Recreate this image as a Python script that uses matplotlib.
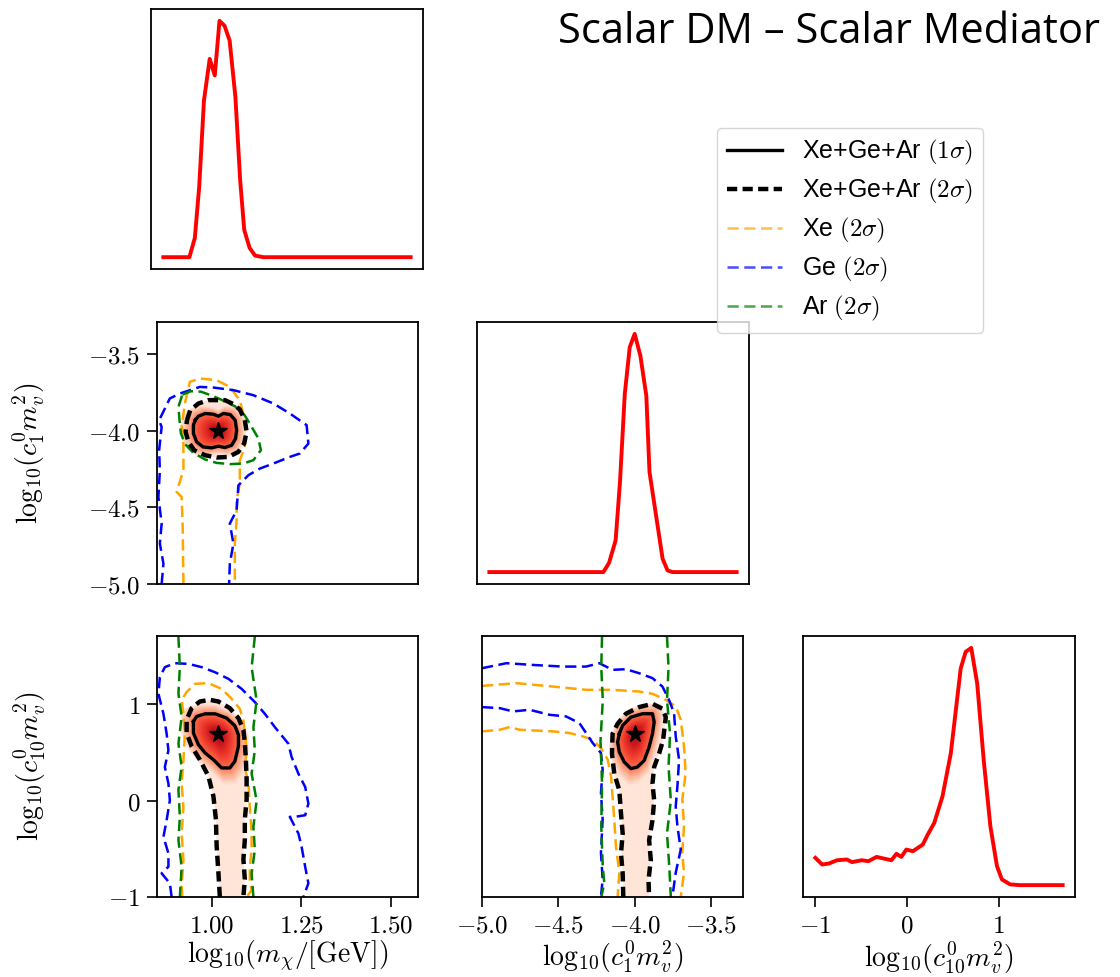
import numpy as np
import matplotlib
matplotlib.use('Agg')
import matplotlib.pyplot as plt
from matplotlib.lines import Line2D

plt.rcParams['mathtext.fontset'] = 'cm'
plt.rcParams['font.family'] = ['Liberation Sans', 'DejaVu Sans']

# ---------------- data ----------------
best_mchi, best_c1, best_c10 = 1.017, -4.0, 0.69

# 1D marginals (normalised to peak = 1)
mchi_x = [0.846, 0.923, 0.939, 0.952, 0.966, 0.983, 0.998, 1.012, 1.027, 1.042,
          1.059, 1.073, 1.085, 1.101, 1.117, 1.141, 1.30, 1.45, 1.577]
mchi_p = [0.0, 0.0, 0.081, 0.299, 0.663, 0.839, 0.769, 1.0, 0.979, 0.916,
          0.677, 0.327, 0.116, 0.039, 0.007, 0.0, 0.0, 0.0, 0.0]

c1_x = [-5.0, -4.6, -4.216, -4.177, -4.132, -4.102, -4.069, -4.035, -4.001, -3.962,
        -3.921, -3.899, -3.854, -3.809, -3.775, -3.741, -3.5, -3.3]
c1_p = [0.0, 0.0, 0.0, 0.039, 0.133, 0.378, 0.748, 0.944, 1.0, 0.909,
        0.741, 0.420, 0.238, 0.056, 0.007, 0.0, 0.0, 0.0]

c10_x = [-1.0, -0.926, -0.853, -0.763, -0.655, -0.601, -0.493, -0.421, -0.331, -0.241,
         -0.169, -0.115, -0.061, -0.007, 0.065, 0.173, 0.227, 0.298, 0.388, 0.479,
         0.587, 0.641, 0.702, 0.767, 0.838, 0.911, 0.983, 1.037, 1.127, 1.235, 1.45, 1.70]
c10_p = [0.115, 0.087, 0.091, 0.105, 0.108, 0.097, 0.105, 0.101, 0.119, 0.111,
         0.105, 0.132, 0.119, 0.150, 0.143, 0.171, 0.213, 0.262, 0.374, 0.556,
         0.913, 0.983, 1.0, 0.850, 0.528, 0.248, 0.080, 0.024, 0.003, 0.0, 0.0, 0.0]

# 2D contours: (m_chi, c1)
mc1_all1 = [(0.953, -3.933), (0.962, -3.907), (0.981, -3.889), (1.004, -3.894), (1.018, -3.907),
            (1.032, -3.889), (1.051, -3.896), (1.065, -3.933), (1.069, -3.998), (1.066, -4.052),
            (1.055, -4.096), (1.036, -4.111), (1.018, -4.102), (0.999, -4.113), (0.975, -4.107),
            (0.957, -4.074), (0.948, -4.019), (0.948, -3.965), (0.953, -3.933)]
mc1_all2 = [(0.930, -3.933), (0.939, -3.868), (0.962, -3.824), (0.990, -3.802), (1.013, -3.802),
            (1.036, -3.802), (1.060, -3.828), (1.078, -3.863), (1.092, -3.933), (1.097, -4.008),
            (1.090, -4.085), (1.074, -4.139), (1.046, -4.172), (1.013, -4.176), (0.981, -4.161),
            (0.950, -4.128), (0.934, -4.074), (0.926, -4.008), (0.930, -3.933)]
mc1_ar = [(0.917, -3.766), (0.941, -3.744), (0.969, -3.747), (0.999, -3.772), (1.027, -3.800),
          (1.065, -3.843), (1.092, -3.902), (1.111, -3.976), (1.130, -4.052), (1.137, -4.128),
          (1.116, -4.193), (1.088, -4.215), (1.051, -4.219), (1.013, -4.211), (0.981, -4.189),
          (0.948, -4.146), (0.925, -4.089), (0.913, -4.019), (0.909, -3.933), (0.906, -3.846),
          (0.917, -3.766)]
mc1_xe = [(0.920, -5.0), (0.918, -4.628), (0.915, -4.433), (0.901, -4.400), (0.920, -4.259),
          (0.920, -4.085), (0.915, -3.977), (0.924, -3.824), (0.938, -3.683), (0.966, -3.661),
          (1.013, -3.672), (1.050, -3.716), (1.078, -3.803), (1.097, -3.977), (1.092, -4.107),
          (1.078, -4.194), (1.078, -4.346), (1.069, -4.454), (1.069, -4.585), (1.064, -4.737),
          (1.064, -5.0)]
mc1_ge = [(0.859, -5.0), (0.864, -4.867), (0.854, -4.737), (0.859, -4.606), (0.850, -4.433),
          (0.854, -4.259), (0.852, -4.128), (0.859, -3.977), (0.852, -3.933), (0.882, -3.791),
          (0.910, -3.759), (0.966, -3.716), (1.004, -3.720), (1.060, -3.737), (1.116, -3.770),
          (1.172, -3.824), (1.218, -3.889), (1.265, -3.965), (1.270, -4.085), (1.246, -4.150),
          (1.218, -4.172), (1.172, -4.215), (1.134, -4.248), (1.102, -4.291), (1.074, -4.357),
          (1.069, -4.520), (1.050, -4.606), (1.060, -4.737), (1.050, -4.867), (1.048, -5.0)]

# 2D contours: (m_chi, c10)
mc10_all1 = [(0.948, 0.820), (0.957, 0.872), (0.981, 0.899), (1.009, 0.899), (1.041, 0.855),
             (1.064, 0.776), (1.074, 0.682), (1.074, 0.562), (1.064, 0.407), (1.050, 0.338),
             (1.027, 0.338), (1.004, 0.424), (0.981, 0.493), (0.962, 0.579), (0.948, 0.700),
             (0.948, 0.820)]
mc10_all2 = [(1.022, -1.0), (1.018, -0.748), (1.013, -0.472), (1.011, -0.196), (1.004, 0.045),
             (0.990, 0.252), (0.966, 0.424), (0.943, 0.562), (0.929, 0.700), (0.929, 0.838),
             (0.943, 0.958), (0.966, 1.027), (0.994, 1.044), (1.018, 1.027), (1.050, 0.958),
             (1.074, 0.855), (1.088, 0.734), (1.092, 0.597), (1.095, 0.424), (1.097, 0.217),
             (1.097, 0.010), (1.092, -0.196), (1.092, -0.403), (1.088, -0.610), (1.092, -0.817),
             (1.088, -1.0)]
mc10_xe = [(0.917, -1.0), (0.915, -0.893), (0.920, -0.617), (0.915, -0.341), (0.920, -0.066),
           (0.915, 0.176), (0.920, 0.417), (0.924, 0.693), (0.920, 0.900), (0.915, 1.044),
           (0.929, 1.124), (0.952, 1.210), (0.990, 1.217), (1.027, 1.158), (1.055, 1.055),
           (1.078, 0.951), (1.088, 0.830), (1.092, 0.693), (1.097, 0.520), (1.092, 0.348),
           (1.102, 0.176), (1.106, -0.066), (1.111, -0.341), (1.111, -0.514), (1.106, -0.686),
           (1.106, -0.824), (1.111, -0.928), (1.097, -1.0)]
mc10_ge = [(0.887, -1.0), (0.882, -0.858), (0.859, -0.755), (0.878, -0.686), (0.878, -0.548),
           (0.864, -0.376), (0.873, -0.204), (0.882, 0.003), (0.878, 0.176), (0.868, 0.348),
           (0.878, 0.520), (0.873, 0.693), (0.864, 0.900), (0.850, 1.107), (0.854, 1.279),
           (0.868, 1.383), (0.896, 1.424), (0.934, 1.417), (0.971, 1.383), (1.008, 1.331),
           (1.046, 1.262), (1.083, 1.158), (1.120, 1.021), (1.148, 0.900), (1.176, 0.762),
           (1.214, 0.589), (1.223, 0.452), (1.242, 0.279), (1.261, 0.141), (1.270, -0.031),
           (1.261, -0.152), (1.232, -0.169), (1.218, -0.169), (1.242, -0.341), (1.251, -0.479),
           (1.261, -0.686), (1.270, -0.858), (1.256, -1.0)]
mc10_ar_left = [(0.906, 1.70), (0.910, 1.38), (0.906, 1.11), (0.915, 0.87), (0.906, 0.59),
                (0.915, 0.35), (0.906, 0.11), (0.910, -0.17), (0.906, -0.41), (0.915, -0.69),
                (0.910, -1.0)]
mc10_ar_right = [(1.120, 1.70), (1.111, 1.38), (1.125, 1.04), (1.116, 0.76), (1.120, 0.52),
                 (1.111, 0.28), (1.125, 0.00), (1.116, -0.27), (1.120, -0.51), (1.111, -0.76),
                 (1.116, -1.0)]

# 2D contours: (c1, c10)
c1c10_all1 = [(-4.102, 0.693), (-4.080, 0.779), (-4.026, 0.865), (-3.950, 0.900), (-3.885, 0.900),
              (-3.874, 0.814), (-3.885, 0.693), (-3.907, 0.555), (-3.939, 0.417), (-3.983, 0.348),
              (-4.026, 0.331), (-4.070, 0.400), (-4.102, 0.503), (-4.113, 0.607), (-4.102, 0.693)]
c1c10_all2 = [(-4.076, -1.0), (-4.080, -0.755), (-4.091, -0.548), (-4.080, -0.341), (-4.091, -0.135),
              (-4.102, 0.107), (-4.135, 0.279), (-4.150, 0.486), (-4.146, 0.693), (-4.113, 0.796),
              (-4.059, 0.900), (-3.972, 0.969), (-3.885, 1.003), (-3.820, 0.952), (-3.798, 0.865),
              (-3.816, 0.624), (-3.842, 0.486), (-3.874, 0.348), (-3.885, 0.176), (-3.874, 0.003),
              (-3.885, -0.204), (-3.907, -0.410), (-3.896, -0.617), (-3.911, -0.824), (-3.907, -1.0)]
c1c10_xe_up = [(-5.0, 1.189), (-4.775, 1.217), (-4.537, 1.182), (-4.319, 1.148), (-4.146, 1.148),
               (-3.972, 1.130), (-3.885, 1.107), (-3.798, 1.044), (-3.733, 0.975), (-3.700, 0.838),
               (-3.679, 0.562), (-3.668, 0.286), (-3.690, 0.010), (-3.679, -0.266), (-3.690, -0.541),
               (-3.679, -0.748), (-3.700, -1.0)]
c1c10_xe_lo = [(-5.0, 0.717), (-4.884, 0.734), (-4.819, 0.762), (-4.754, 0.734), (-4.537, 0.717),
               (-4.428, 0.700), (-4.341, 0.665), (-4.276, 0.631), (-4.222, 0.545), (-4.178, 0.424),
               (-4.156, 0.252), (-4.146, 0.045), (-4.135, -0.196), (-4.124, -0.472), (-4.102, -0.748),
               (-4.113, -1.0)]
c1c10_ge_up = [(-5.0, 1.372), (-4.840, 1.424), (-4.667, 1.406), (-4.472, 1.389), (-4.319, 1.389),
               (-4.233, 1.424), (-4.146, 1.355), (-4.059, 1.362), (-3.972, 1.320), (-3.885, 1.269),
               (-3.820, 1.182), (-3.777, 1.044), (-3.744, 0.907), (-3.733, 0.665), (-3.711, 0.424),
               (-3.722, 0.148), (-3.733, -0.059), (-3.722, -0.266), (-3.700, -0.507), (-3.733, -0.748),
               (-3.755, -1.0)]
c1c10_ge_lo = [(-5.0, 0.969), (-4.884, 0.958), (-4.797, 0.924), (-4.689, 0.941), (-4.558, 0.889),
               (-4.450, 0.872), (-4.363, 0.803), (-4.319, 0.700), (-4.276, 0.597), (-4.222, 0.493),
               (-4.211, 0.321), (-4.222, 0.080), (-4.211, -0.196), (-4.222, -0.541), (-4.211, -0.817),
               (-4.222, -1.0)]
c1c10_ar_left = [(-4.215, 1.70), (-4.220, 1.38), (-4.210, 1.04), (-4.225, 0.62), (-4.215, 0.18),
                 (-4.220, -0.27), (-4.210, -0.69), (-4.200, -0.86), (-4.220, -1.0)]
c1c10_ar_right = [(-3.790, 1.70), (-3.780, 1.38), (-3.790, 1.04), (-3.770, 0.69), (-3.780, 0.35),
                  (-3.765, 0.00), (-3.790, -0.34), (-3.775, -0.69), (-3.765, -1.0)]

mchi_lim = (0.846, 1.577)
c1_lim = (-5.0, -3.293)
c10_lim = (-1.0, 1.706)
mchi_ticks = [1.00, 1.25, 1.50]
c1_ticks = [-5.0, -4.5, -4.0, -3.5]
c10_ticks = [-1, 0, 1]

lab_mchi = r'$\mathrm{log}_{10}(m_\chi/[\mathrm{GeV}])$'
lab_c1 = r'$\mathrm{log}_{10}(c_1^0 m_v^2)$'
lab_c10 = r'$\mathrm{log}_{10}(c_{10}^0 m_v^2)$'

# ---------------- figure ----------------
W, H = 1120, 977
fig = plt.figure(figsize=(W / 100, H / 100), dpi=100)


def box(l, t, r, b):
    return [l / W, 1 - b / H, (r - l) / W, (b - t) / H]


ax_d0 = fig.add_axes(box(151, 9, 423, 269))
ax_d1 = fig.add_axes(box(477, 322, 749, 584))
ax_d2 = fig.add_axes(box(803, 636, 1075, 897))
ax_a = fig.add_axes(box(157, 322, 418, 584))
ax_b = fig.add_axes(box(157, 636, 418, 897))
ax_c = fig.add_axes(box(482, 636, 743, 897))

TS = 18   # tick labels
LS = 20   # axis labels
dash_c = (4.5, 2.2)
dash_k = (2.3, 1.2)
reds = plt.cm.Reds


def xy(pts):
    a = np.array(pts)
    return a[:, 0], a[:, 1]


def shade(ax, sig2, sig1, star):
    # pale 2-sigma region plus nested copies of the 1-sigma contour shrunk toward the best fit
    x2, y2 = xy(sig2)
    ax.fill(x2, y2, color=reds(0.10), lw=0, zorder=1)
    x1, y1 = xy(sig1)
    sx, sy = star
    for f in np.linspace(1.5, 0.1, 29):
        if f > 1:
            c = reds(0.12 + (1.5 - f) / 0.5 * 0.35)
        else:
            c = reds(0.50 + (1 - f) * 0.38)
        ax.fill(sx + f * (x1 - sx), sy + f * (y1 - sy), color=c, lw=0, zorder=1)


def cline(ax, pts, color):
    x, y = xy(pts)
    ax.plot(x, y, color=color, lw=1.8, dashes=dash_c, zorder=2)


def kline(ax, pts, solid):
    x, y = xy(pts)
    if solid:
        ax.plot(x, y, color='k', lw=2.4, zorder=3)
    else:
        ax.plot(x, y, color='k', lw=3.2, dashes=dash_k, zorder=3)


def fmt(v, nd):
    return '$' + f'{v:.{nd}f}' + '$'


# --- panel A: m_chi vs c1
shade(ax_a, mc1_all2, mc1_all1, (best_mchi, best_c1))
cline(ax_a, mc1_xe, 'orange')
cline(ax_a, mc1_ge, 'blue')
cline(ax_a, mc1_ar, 'green')
kline(ax_a, mc1_all2, False)
kline(ax_a, mc1_all1, True)
ax_a.plot(best_mchi, best_c1, marker='*', color='k', ms=13, zorder=5)
ax_a.set_xlim(mchi_lim)
ax_a.set_ylim(c1_lim)
ax_a.set_xticks([])
ax_a.set_yticks(c1_ticks)
ax_a.set_yticklabels([fmt(v, 1) for v in c1_ticks])
ax_a.set_ylabel(lab_c1, fontsize=LS)

# --- panel B: m_chi vs c10
shade(ax_b, mc10_all2, mc10_all1, (best_mchi, best_c10))
cline(ax_b, mc10_xe, 'orange')
cline(ax_b, mc10_ge, 'blue')
cline(ax_b, mc10_ar_left, 'green')
cline(ax_b, mc10_ar_right, 'green')
kline(ax_b, mc10_all2, False)
kline(ax_b, mc10_all1, True)
ax_b.plot(best_mchi, best_c10, marker='*', color='k', ms=13, zorder=5)
ax_b.set_xlim(mchi_lim)
ax_b.set_ylim(c10_lim)
ax_b.set_xticks(mchi_ticks)
ax_b.set_xticklabels([fmt(v, 2) for v in mchi_ticks])
ax_b.set_yticks(c10_ticks)
ax_b.set_yticklabels([fmt(v, 0) for v in c10_ticks])
ax_b.set_xlabel(lab_mchi, fontsize=LS, labelpad=1)
ax_b.set_ylabel(lab_c10, fontsize=LS)

# --- panel C: c1 vs c10
shade(ax_c, c1c10_all2, c1c10_all1, (best_c1, best_c10))
cline(ax_c, c1c10_xe_up, 'orange')
cline(ax_c, c1c10_xe_lo, 'orange')
cline(ax_c, c1c10_ge_up, 'blue')
cline(ax_c, c1c10_ge_lo, 'blue')
cline(ax_c, c1c10_ar_left, 'green')
cline(ax_c, c1c10_ar_right, 'green')
kline(ax_c, c1c10_all2, False)
kline(ax_c, c1c10_all1, True)
ax_c.plot(best_c1, best_c10, marker='*', color='k', ms=13, zorder=5)
ax_c.set_xlim(c1_lim)
ax_c.set_ylim(c10_lim)
ax_c.set_yticks([])
ax_c.set_xticks(c1_ticks)
ax_c.set_xticklabels([fmt(v, 1) for v in c1_ticks])
ax_c.set_xlabel(lab_c1, fontsize=LS, labelpad=1)

# --- diagonal 1D curves
ax_d0.plot(mchi_x, mchi_p, color='red', lw=2.8)
ax_d1.plot(c1_x, c1_p, color='red', lw=2.8)
ax_d2.plot(c10_x, c10_p, color='red', lw=2.8)
for ax in (ax_d0, ax_d1, ax_d2):
    ax.set_yticks([])
ax_d0.set_xticks([])
ax_d1.set_xticks([])
ax_d2.set_xticks(c10_ticks)
ax_d2.set_xticklabels([fmt(v, 0) for v in c10_ticks])
ax_d2.set_xlabel(lab_c10, fontsize=LS, labelpad=1)

for ax in (ax_a, ax_b, ax_c, ax_d0, ax_d1, ax_d2):
    ax.tick_params(labelsize=TS, length=7, width=1.2, pad=5)
    for s in ax.spines.values():
        s.set_linewidth(1.3)

ax_a.yaxis.set_label_coords(-0.42, 0.5)
ax_b.yaxis.set_label_coords(-0.42, 0.5)

# --- legend
handles = [
    Line2D([], [], color='k', lw=2.4),
    Line2D([], [], color='k', lw=3.2, dashes=dash_k),
    Line2D([], [], color='orange', lw=1.8, dashes=dash_c, alpha=0.7),
    Line2D([], [], color='blue', lw=1.8, dashes=dash_c, alpha=0.7),
    Line2D([], [], color='green', lw=1.8, dashes=dash_c, alpha=0.7),
]
labels = [r'Xe+Ge+Ar $(1\sigma)$', r'Xe+Ge+Ar $(2\sigma)$', r'Xe $(2\sigma)$',
          r'Ge $(2\sigma)$', r'Ar $(2\sigma)$']
fig.legend(handles, labels, loc='upper left', bbox_to_anchor=(717 / W, 1 - 128 / H),
           fontsize=18, handlelength=2.2, handletextpad=0.8, labelspacing=0.4,
           borderaxespad=0, frameon=True)

fig.text(1100 / W, 1 - 32 / H, 'Scalar DM – Scalar Mediator', ha='right', va='center',
         fontsize=30, family='Open Sans')

fig.savefig('out.png', dpi=100)
